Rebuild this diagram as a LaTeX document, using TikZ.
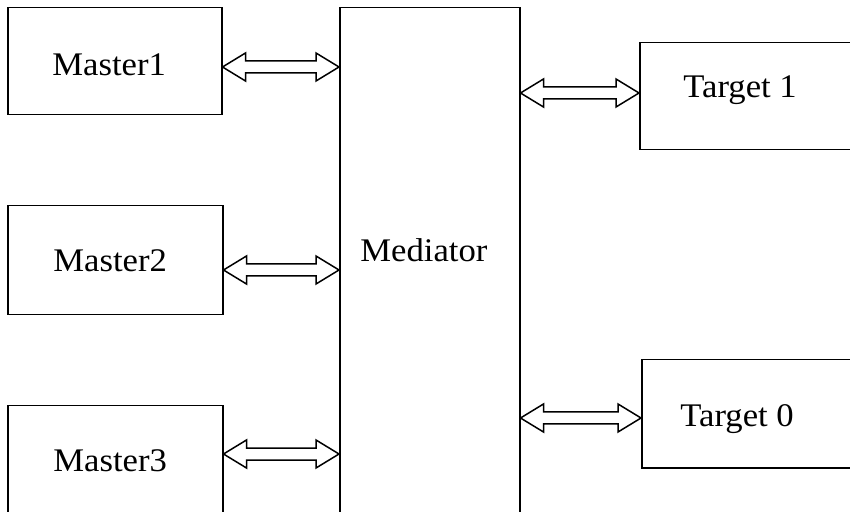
\documentclass[tikz,border=0pt]{standalone}
\usepackage{fontspec}
\setmainfont[FakeStretch=1.05]{Liberation Serif}
\usetikzlibrary{calc}
\newcommand\dblarr[3]{%
  \path[arr] let \p1=(#1), \p2=(#2), \p3=(0,#3) in
    (\x1,\y3) -- (\x1+11.5pt,\y3+7pt) -- (\x1+11.5pt,\y3+3pt) -- (\x2-11.5pt,\y3+3pt)
    -- (\x2-11.5pt,\y3+7pt) -- (\x2,\y3) -- (\x2-11.5pt,\y3-7pt) -- (\x2-11.5pt,\y3-3pt)
    -- (\x1+11.5pt,\y3-3pt) -- (\x1+11.5pt,\y3-7pt) -- cycle;}
\begin{document}
\begin{tikzpicture}[x=0.5pt,y=-0.5pt,
  box/.style={draw,line width=0.75pt,inner sep=0pt,anchor=north west},
  lbl/.style={font=\fontsize{16.5}{16.5}\selectfont,anchor=base west,inner sep=0pt},
  arr/.style={draw,line width=0.75pt,fill=white}]
\useasboundingbox (0,0) rectangle (850,512);
\clip (0,0) rectangle (850,512);
\node[box,minimum width=107pt,minimum height=53.5pt] (m1) at (7,7) {};
\node[box,minimum width=107.5pt,minimum height=54.5pt] (m2) at (7,205) {};
\node[box,minimum width=107.5pt,minimum height=80pt] (m3) at (7,405) {};
\node[box,minimum width=90pt,minimum height=280pt] (med) at (339,7) {};
\node[box,minimum width=130pt,minimum height=53.5pt] (t1) at (639,42) {};
\node[box,minimum width=130pt,minimum height=54pt] (t0) at (641,359) {};
\node[lbl] (m1t) at (52,76) {Master1};
\node[lbl] (m2t) at (53,272) {Master2};
\node[lbl] (m3t) at (53,472) {Master3};
\node[lbl] (medt) at (360,262) {Mediator};
\node[lbl] (t1t) at (683,98) {Target 1};
\node[lbl] (t0t) at (680,427) {Target 0};
\dblarr{m1.east}{med.west}{67}
\dblarr{m2.east}{med.west}{270}
\dblarr{m3.east}{med.west}{454}
\dblarr{med.east}{t1.west}{93}
\dblarr{med.east}{t0.west}{418}
\end{tikzpicture}
\end{document}
